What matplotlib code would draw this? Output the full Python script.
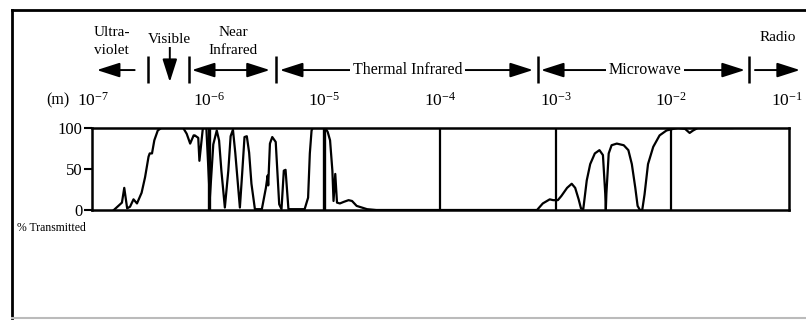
import matplotlib
matplotlib.use("Agg")
import matplotlib.pyplot as plt
from matplotlib.lines import Line2D
import numpy as np

# wavelength (log10 of metres) and % transmitted
wl_exp = [-6.82, -6.75, -6.73, -6.705, -6.68, -6.65, -6.62, -6.58, -6.55, -6.52,
          -6.51, -6.49, -6.47, -6.44, -6.41, -6.22, -6.19, -6.16, -6.13, -6.12,
          -6.09, -6.08, -6.05, -6.02, -5.99, -5.96, -5.93, -5.91, -5.89, -5.86,
          -5.83, -5.81, -5.79, -5.77, -5.73, -5.71, -5.69, -5.67, -5.65, -5.63,
          -5.60, -5.54, -5.505, -5.49, -5.485, -5.47, -5.45, -5.42, -5.39, -5.37,
          -5.35, -5.335, -5.31, -5.17, -5.14, -5.125, -5.11, -5.10, -4.99, -4.97,
          -4.95, -4.93, -4.92, -4.905, -4.89, -4.865, -4.83, -4.79, -4.76, -4.72,
          -4.63, -4.55, -3.16, -3.11, -3.05, -3.02, -2.98, -2.95, -2.90, -2.86,
          -2.83, -2.80, -2.78, -2.76, -2.73, -2.70, -2.66, -2.62, -2.59, -2.57,
          -2.565, -2.56, -2.54, -2.515, -2.47, -2.41, -2.37, -2.34, -2.31, -2.29,
          -2.27, -2.25, -2.23, -2.20, -2.155, -2.10, -2.04, -1.98, -1.94, -1.88,
          -1.84, -1.81, -1.77, -1.47]
transmitted = [0, 9, 27, 2, 4, 13, 8, 21, 40, 65,
               69, 69, 85, 97, 100, 100, 93, 81, 91, 91,
               88, 60, 100, 100, 14, 80, 97, 85, 48, 3,
               48, 90, 98, 70, 3, 45, 89, 90, 70, 32,
               1, 1, 27, 42, 30, 81, 89, 83, 7, 1,
               48, 49, 1, 1, 15, 69, 97, 100, 100, 95,
               85, 48, 11, 44, 9, 8, 10, 12, 11, 5,
               1, 0, 0, 8, 13, 12, 12, 17, 27, 32,
               27, 13, 2, 1, 36, 56, 69, 73, 67, 20,
               0, 20, 69, 79, 81, 79, 73, 56, 27, 5,
               0, 0, 19, 56, 77, 91, 97, 99, 100, 99,
               94, 97, 100, 100]

# decade marker lines inside the plot
line_exp = [-6, -5, -4, -3, -2]
line_low = [0, 0, 3, 0, 0]
line_high = [100, 100, 97, 97, 100]

tick_exp = [-7, -6, -5, -4, -3, -2, -1]
tick_labels = ["$10^{-%d}$" % (-e) for e in tick_exp]

# band boundaries (log10 m)
band_bars = [-6.526, -6.171, -5.419, -3.152, -1.327]

plt.rcParams["font.family"] = "Liberation Serif"
plt.rcParams["mathtext.fontset"] = "custom"
plt.rcParams["mathtext.rm"] = "Liberation Serif"
plt.rcParams["mathtext.it"] = "Liberation Serif:italic"

fig = plt.figure(figsize=(8.06, 3.21), dpi=100)
ax = fig.add_axes([0.114, 0.3458, 0.865, 0.2554])

x = 10.0 ** np.array(wl_exp)
ax.plot(x, transmitted, color="black", lw=1.6)
for e, lo, hi in zip(line_exp, line_low, line_high):
    lw = 2.4 if e in (-6, -5) else 1.6
    ax.plot([10.0 ** e, 10.0 ** e], [lo, hi], color="black", lw=lw)

ax.set_xscale("log")
ax.set_xlim(10 ** -7.01, 10 ** -0.98)
ax.set_ylim(0, 100)
ax.xaxis.tick_top()
ax.set_xticks([10.0 ** e for e in tick_exp], labels=tick_labels)
ax.minorticks_off()
ax.tick_params(axis="x", length=0, pad=13, labelsize=12.5)
ax.set_yticks([0, 50, 100])
ax.tick_params(axis="y", direction="out", length=6, width=1.5, pad=1, labelsize=12)
for sp in ax.spines.values():
    sp.set_linewidth(1.8)

ax.text(-0.049, 1.341, "(m)", transform=ax.transAxes, ha="center", va="center", fontsize=11.5)
ax.text(-0.108, -0.22, "% Transmitted", transform=ax.transAxes, ha="left", va="center", fontsize=8.5)

xt = ax.get_xaxis_transform()
ax.vlines([10.0 ** b for b in band_bars], 1.549, 1.878, transform=xt, colors="black",
          lw=1.8, clip_on=False)

head = dict(arrowstyle="-|>,head_length=1.0,head_width=0.32", color="black", lw=1.4,
            mutation_scale=14, shrinkA=0, shrinkB=0)
dbl = dict(arrowstyle="<|-|>,head_length=1.0,head_width=0.32", color="black", lw=1.4,
           mutation_scale=14, shrinkA=0, shrinkB=0)

# ultraviolet
ax.annotate("", xy=(10 ** -6.967, 1.707), xytext=(10 ** -6.64, 1.707),
            xycoords=xt, textcoords=xt, arrowprops=head, annotation_clip=False)
ax.text(10 ** -6.84, 2.05, "Ultra-\nviolet", transform=xt, ha="center", va="center",
        fontsize=11, linespacing=1.5)
# visible
ax.annotate("", xy=(10 ** -6.336, 1.561), xytext=(10 ** -6.336, 1.99),
            xycoords=xt, textcoords=xt, arrowprops=head, annotation_clip=False)
ax.text(10 ** -6.34, 2.085, "Visible", transform=xt, ha="center", va="center",
        fontsize=11, bbox=dict(fc="white", ec="none", pad=1))
# near infrared
ax.annotate("", xy=(10 ** -5.471, 1.707), xytext=(10 ** -6.145, 1.707),
            xycoords=xt, textcoords=xt, arrowprops=dbl, annotation_clip=False)
ax.text(10 ** -5.79, 2.05, "Near\nInfrared", transform=xt, ha="center", va="center",
        fontsize=11, linespacing=1.5)
# thermal infrared
ax.annotate("", xy=(10 ** -3.195, 1.707), xytext=(10 ** -5.384, 1.707),
            xycoords=xt, textcoords=xt, arrowprops=dbl, annotation_clip=False)
ax.text(10 ** -4.277, 1.707, "Thermal Infrared", transform=xt, ha="center", va="center",
        fontsize=11.5, bbox=dict(fc="white", ec="none", pad=2))
# microwave
ax.annotate("", xy=(10 ** -1.362, 1.707), xytext=(10 ** -3.126, 1.707),
            xycoords=xt, textcoords=xt, arrowprops=dbl, annotation_clip=False)
ax.text(10 ** -2.227, 1.707, "Microwave", transform=xt, ha="center", va="center",
        fontsize=11.5, bbox=dict(fc="white", ec="none", pad=2))
# radio
ax.annotate("", xy=(10 ** -0.886, 1.707), xytext=(10 ** -1.275, 1.707),
            xycoords=xt, textcoords=xt, arrowprops=head, annotation_clip=False)
ax.text(10 ** -1.076, 2.098, "Radio", transform=xt, ha="center", va="center", fontsize=11)

# outer frame of the figure
fig.add_artist(Line2D([12 / 806, 12 / 806], [1 - 318 / 321, 1 - 10 / 321], color="black", lw=2))
fig.add_artist(Line2D([12 / 806, 1], [1 - 10 / 321, 1 - 10 / 321], color="black", lw=2))
fig.add_artist(Line2D([12 / 806, 1], [1 - 318 / 321, 1 - 318 / 321], color="#bbbbbb", lw=1.5))

fig.savefig("out.png", dpi=100)
